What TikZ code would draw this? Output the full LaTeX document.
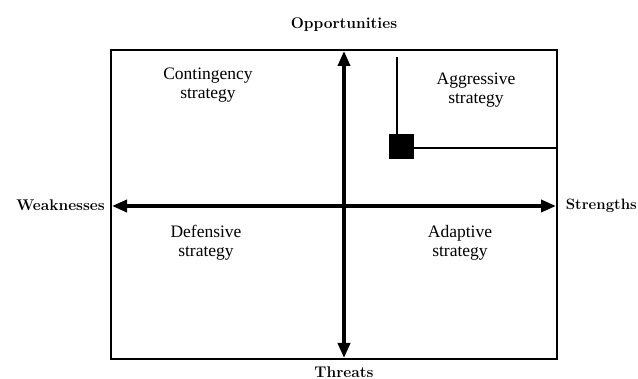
\documentclass[tikz,border=0pt]{standalone}
\usepackage{fontspec}
\newfontfamily\quadfont{Liberation Serif}
\usetikzlibrary{arrows.meta}
\tikzset{
  axis/.style={line width=3.6pt,{Triangle[length=15pt,width=12pt]}-{Triangle[length=15pt,width=12pt]}},
  lbl/.style={font=\fontsize{15.5}{17}\selectfont\bfseries, inner sep=0pt},
  quad/.style={font=\quadfont\fontsize{17.5}{19}\selectfont, align=center, inner sep=0pt},
  thin/.style={line width=1.1pt},
}
\begin{document}
\begin{tikzpicture}[x=1pt,y=-1pt]
\useasboundingbox (0,0) rectangle (638,379);
\draw[thin] (111,50) rectangle (557,359);
\coordinate (top) at (344,51);
\coordinate (bot) at (344,358);
\coordinate (left) at (112,206);
\coordinate (right) at (556,206);
\draw[axis] (bot) -- (top);
\draw[axis] (left) -- (right);
\node[lbl] (opp) at (344,25) {Opportunities};
\node[lbl] (thr) at (344,372) {Threats};
\node[lbl, anchor=east] (weak) at (105,205) {Weaknesses};
\node[lbl, anchor=east, font=\fontsize{15}{17}\selectfont\bfseries] (str) at (637,206) {Strengths};
\node[quad] (cont) at (208,85) {Contingency\\strategy};
\node[quad] (aggr) at (476,90) {Aggressive\\strategy};
\node[quad] (def) at (206,243) {Defensive\\strategy};
\node[quad] (adap) at (460,243) {Adaptive\\strategy};
\node[fill=black, minimum size=25pt, inner sep=0pt] (sq) at (401,147) {};
\coordinate (sqtop) at (397,57);
\coordinate (sqright) at (558,148);
\draw[thin] (sqtop) -- (sqtop |- sq.north);
\draw[thin] (sq.east |- sqright) -- (sqright);
\end{tikzpicture}
\end{document}
